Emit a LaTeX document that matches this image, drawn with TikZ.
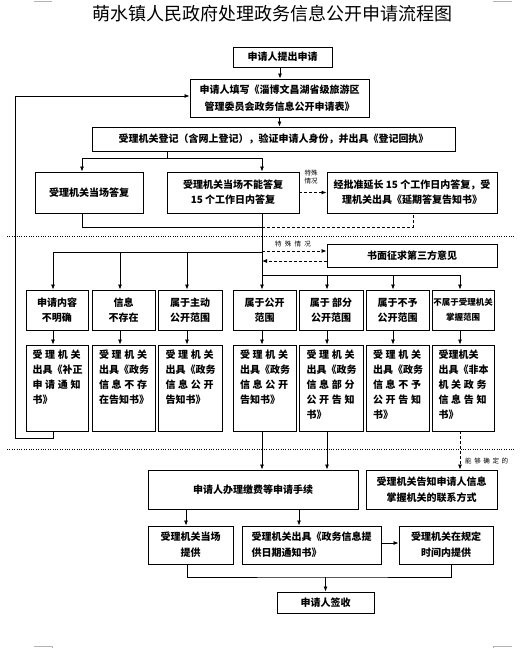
\documentclass[tikz,border=0pt]{standalone}
\usepackage{fontspec}
\setmainfont{Noto Sans CJK SC}
\usetikzlibrary{arrows.meta,calc}
\newcommand\spr[4]{\makebox[48pt][s]{#1\hfil#2\hfil#3\hfil#4}}
\newcommand\rtwo[1]{\parbox[c][76pt][t]{49pt}{\raggedright #1}}
\begin{document}
\begin{tikzpicture}[x=1pt,y=-1pt,
 box/.style={draw, line width=0.9pt, inner sep=0pt, align=center, font=\bfseries\fontsize{10}{15}\selectfont},
 line/.style={line width=0.8pt},
 arr/.style={line width=0.8pt, -{Latex[length=5pt,width=4pt]}},
 dsh/.style={dash pattern=on 3pt off 2pt},
 dot/.style={line width=0.8pt, dash pattern=on 0.8pt off 1.6pt},
 tiny/.style={font=\fontsize{6.5}{8.5}\selectfont, inner sep=0pt},
 crop/.style={draw=gray!60, line width=0.8pt}]
\useasboundingbox (0,0) rectangle (522,648);

% crop marks
\draw[crop] (34,1) -- (52,1);
\draw[crop] (493,1) -- (512,1);
\draw[crop] (34,646) -- (52,646) -- (52,648);
\draw[crop] (493,648) -- (493,646) -- (512,646);

\node[font=\fontsize{18}{20}\selectfont] (title) at (272.5,14) {萌水镇人民政府处理政务信息公开申请流程图};

\node[box, minimum width=99pt, minimum height=20pt] (b1) at (282.5,57) {申请人提出申请};
\node[box, minimum width=179pt, minimum height=38pt, font=\bfseries\fontsize{10}{17}\selectfont] (b2) at (279.5,98) {申请人填写《淄博文昌湖省级旅游区\\管理委员会政务信息公开申请表》};
\node[box, minimum width=363pt, minimum height=24pt] (b3) at (273.5,139) {受理机关登记（含网上登记），验证申请人身份，并出具《登记回执》};
\node[box, minimum width=108pt, minimum height=41pt] (b4a) at (89,192.5) {受理机关当场答复};
\node[box, minimum width=132pt, minimum height=41pt] (b4b) at (233,192.5) {受理机关当场不能答复\\15 个工作日内答复};
\node[box, minimum width=170pt, minimum height=41pt] (b4c) at (412,192.5) {经批准延长 15 个工作日内答复，受\\理机关出具《延期答复告知书》};
\node[box, minimum width=170pt, minimum height=23pt] (b5) at (412,255.5) {书面征求第三方意见};

% row 1
\node[box, minimum width=62pt, minimum height=40pt] (rA) at (57,310) {申请内容\\不明确};
\node[box, minimum width=63pt, minimum height=40pt] (rB) at (123.5,310) {信息\\不存在};
\node[box, minimum width=64pt, minimum height=40pt] (rC) at (190,310) {属于主动\\公开范围};
\node[box, minimum width=63pt, minimum height=40pt] (rD) at (264.5,310) {属于公开\\范围};
\node[box, minimum width=64pt, minimum height=40pt] (rE) at (331,310) {属于 部分\\公开范围};
\node[box, minimum width=63pt, minimum height=40pt] (rF) at (397.5,310) {属于不予\\公开范围};
\node[box, minimum width=62pt, minimum height=40pt, font=\bfseries\fontsize{8.5}{15}\selectfont] (rG) at (463,310) {不属于受理机关\\掌握范围};

% row 2
\node[box, minimum width=62pt, minimum height=86pt] (qA) at (57,388) {\rtwo{\spr 受理机关\\出具《补正\\\spr 申请通知\\书》}};
\node[box, minimum width=63pt, minimum height=86pt] (qB) at (123.5,388) {\rtwo{\spr 受理机关\\出具《政务\\\spr 信息不存\\在告知书》}};
\node[box, minimum width=64pt, minimum height=86pt] (qC) at (190,388) {\rtwo{\spr 受理机关\\出具《政务\\\spr 信息公开\\告知书》}};
\node[box, minimum width=63pt, minimum height=86pt] (qD) at (264.5,388) {\rtwo{\spr 受理机关\\出具《政务\\\spr 信息公开\\告知书》}};
\node[box, minimum width=64pt, minimum height=86pt] (qE) at (331,388) {\rtwo{\spr 受理机关\\出具《政务\\\spr 信息部分\\\spr 公开告知\\书》}};
\node[box, minimum width=63pt, minimum height=86pt] (qF) at (397.5,388) {\rtwo{\spr 受理机关\\出具《政务\\\spr 信息不予\\\spr 公开告知\\书》}};
\node[box, minimum width=62pt, minimum height=86pt] (qG) at (463,388) {\rtwo{受理机关\\出具《非本\\\spr 机关政务\\\spr 信息告知\\书》}};

% lower part
\node[box, minimum width=210pt, minimum height=39pt] (fee) at (253,489.5) {申请人办理缴费等申请手续};
\node[box, minimum width=131pt, minimum height=39pt, font=\bfseries\fontsize{10}{16}\selectfont] (ct) at (431.5,489.5) {受理机关告知申请人信息\\掌握机关的联系方式};
\node[box, minimum width=85pt, minimum height=38pt, font=\bfseries\fontsize{10}{16}\selectfont] (X) at (190.5,545) {受理机关当场\\提供};
\node[box, minimum width=139pt, minimum height=38pt, align=left, font=\bfseries\fontsize{10}{16}\selectfont] (Y) at (311.5,545) {受理机关出具《政务信息提\\供日期通知书》};
\node[box, minimum width=94pt, minimum height=38pt, font=\bfseries\fontsize{10}{16}\selectfont] (Z) at (446,545) {受理机关在规定\\时间内提供};
\node[box, minimum width=97pt, minimum height=21pt] (fin) at (325.5,602.5) {申请人签收};

% connectors top
\draw[arr] ([xshift=-2.5pt]b1.south) -- ([xshift=-2.5pt]b1.south |- b2.north);
\draw[arr] (b2.south) -- (b2.south |- b3.north);
\coordinate (j1) at (167,158);
\draw[line] (j1 |- b3.south) -- (j1);
\draw[arr] (j1) -| ([xshift=-7pt]b4a.north);
\draw[arr] (j1) -| ([xshift=29pt]b4b.north);
\draw[arr,dsh] (b4b.east) -- (b4c.west);
\node[tiny, align=left] (l1) at (311,177) {特殊\\情况};
\coordinate (j2) at (262,227);
\draw[line] ([xshift=-7pt]b4a.south) |- (j2);
\draw[line,dsh] (j2) -| ([xshift=1pt]b4c.south);
\draw[arr] ([xshift=29pt]b4b.south) -- ([xshift=-2.5pt]rD.north);

% dotted separators
\coordinate (d1l) at (7,236); \coordinate (d1r) at (515,236);
\draw[dot] (d1l) -- (d1r);
\coordinate (d2l) at (7,449); \coordinate (d2r) at (515,449);
\draw[dot] (d2l) -- (d2r);

% third party
\coordinate (t1) at (262,251);
\draw[arr,dsh] (t1) -- (t1 -| b5.west);
\coordinate (t2) at (262,261);
\draw[arr,dsh] (t2 -| b5.west) -- (t2);
\node[tiny] (l2) at (293,244.5) {\makebox[36pt][s]{特\hfil 殊\hfil 情\hfil 况}};

% branches
\coordinate (j3) at (262,252);
\draw[arr] (j3) -| ([xshift=-4pt]rA.north);
\draw[arr] ([xshift=-3.5pt]rB.north |- j3) -- ([xshift=-3.5pt]rB.north);
\draw[arr] ([xshift=-3pt]rC.north |- j3) -- ([xshift=-3pt]rC.north);
\coordinate (j4) at (262,275);
\draw[arr] (j4) -| ([xshift=-3pt]rG.north);
\draw[arr] ([xshift=-4pt]rE.north |- j4) -- ([xshift=-4pt]rE.north);
\draw[arr] ([xshift=-4.5pt]rF.north |- j4) -- ([xshift=-4.5pt]rF.north);

% row1 -> row2
\draw[arr] ([xshift=-4pt]rA.south) -- ([xshift=-4pt]qA.north);
\draw[arr] ([xshift=-3.5pt]rB.south) -- ([xshift=-3.5pt]qB.north);
\draw[arr] ([xshift=-3pt]rC.south) -- ([xshift=-3pt]qC.north);
\draw[arr] ([xshift=-2.5pt]rD.south) -- ([xshift=-2.5pt]qD.north);
\draw[arr] ([xshift=-4pt]rE.south) -- ([xshift=-4pt]qE.north);
\draw[arr] ([xshift=-4.5pt]rF.south) -- ([xshift=-4.5pt]qF.north);
\draw[arr] ([xshift=-3pt]rG.south) -- ([xshift=-3pt]qG.north);

% return loop
\draw[arr] ([xshift=-4pt]qA.south) -- ++(0,7) -| ([xshift=-174pt,yshift=2pt]b2.west) -- ([yshift=2pt]b2.west);

% to fee / contact
\draw[arr] ([xshift=-2.5pt]qD.south) -- ([xshift=-2.5pt]qD.south |- fee.north);
\draw[arr] ([xshift=-4pt]qE.south) -- ([xshift=-4pt]qE.south |- fee.north);
\draw[arr,dsh] ([xshift=-3pt]qG.south) -- ([xshift=-3pt]qG.south |- ct.north);
\node[tiny, anchor=west] (l3) at (465,461) {\makebox[43pt][s]{能\hfil 够\hfil 确\hfil 定\hfil 的}};

% bottom
\draw[arr] ([xshift=-4.5pt]X.north |- fee.south) -- ([xshift=-4.5pt]X.north);
\draw[arr] ([xshift=-12.5pt]Y.north |- fee.south) -- ([xshift=-12.5pt]Y.north);
\draw[arr] ([yshift=2pt]Y.east) -- ([yshift=2pt]Y.east -| Z.west);
\coordinate (j5) at (325.5,577);
\draw[line] ([xshift=-3.5pt]X.south) |- (j5) -| ([xshift=5pt]Z.south);
\draw[arr] (j5) -- (fin.north);
\end{tikzpicture}
\end{document}
